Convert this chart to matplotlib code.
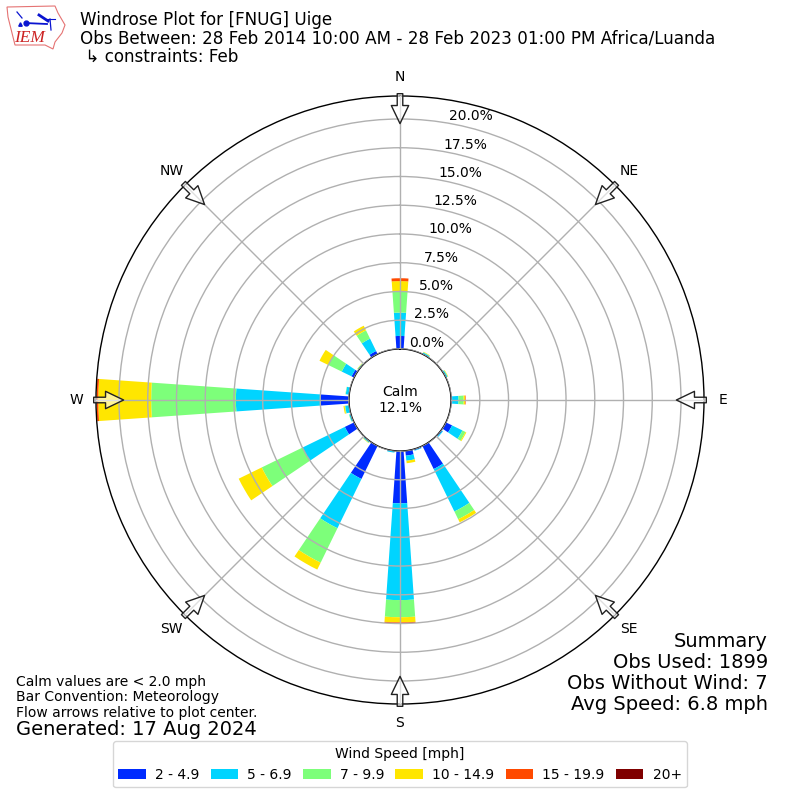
import numpy as np
import matplotlib
matplotlib.use("Agg")
import matplotlib.pyplot as plt
from matplotlib.patches import Polygon

directions = [0, 30, 60, 90, 120, 130, 150, 160, 170, 180, 190, 210, 220, 240, 250, 260, 270, 280, 300, 310, 330]
bin_labels = ["2 - 4.9", "5 - 6.9", "7 - 9.9", "10 - 14.9", "15 - 19.9", "20+"]
bin_colors = ["#002bff", "#00d4ff", "#7dff7a", "#ffe600", "#ff4a00", "#7f0000"]
speed_2_5 = [1.13, 0.06, 0.06, 0.10, 0.60, 0.10, 2.24, 0.10, 0.43, 4.55, 0.06, 3.20, 0.06, 0.90, 0.05, 0.05, 2.46, 0.05, 0.25, 0.05, 0.30]
speed_5_7 = [2.03, 0.10, 0.10, 0.55, 1.00, 0.08, 4.11, 0.05, 0.44, 8.41, 0.10, 4.77, 0.08, 4.10, 0.10, 0.30, 7.37, 0.25, 0.95, 0.05, 1.20]
speed_7_10 = [1.81, 0.03, 0.03, 0.45, 0.30, 0.00, 0.75, 0.00, 0.00, 1.49, 0.00, 3.33, 0.03, 3.94, 0.03, 0.05, 7.37, 0.03, 1.30, 0.03, 0.80]
speed_10_15 = [0.93, 0.04, 0.04, 0.12, 0.08, 0.00, 0.30, 0.00, 0.22, 0.45, 0.00, 0.67, 0.03, 2.23, 0.00, 0.10, 4.60, 0.00, 0.85, 0.03, 0.45]
speed_15_20 = [0.25, 0.00, 0.00, 0.05, 0.00, 0.00, 0.00, 0.00, 0.00, 0.10, 0.00, 0.00, 0.00, 0.00, 0.00, 0.00, 0.15, 0.00, 0.00, 0.00, 0.00]
speed_20 = [0.00] * 21
series = [speed_2_5, speed_5_7, speed_7_10, speed_10_15, speed_15_20, speed_20]

r_ticks = [0, 2.5, 5, 7.5, 10, 12.5, 15, 17.5, 20]
r_max = 22.0
r_origin = -4.44
compass = ["N", "NE", "E", "SE", "S", "SW", "W", "NW"]
compass_deg = [0, 45, 90, 135, 180, 225, 270, 315]

fig = plt.figure(figsize=(8, 8), dpi=100)
ax = fig.add_axes([0.12, 0.12, 0.76, 0.76], projection="polar")
ax.set_theta_zero_location("N")
ax.set_theta_direction(-1)
ax.set_axisbelow(False)

theta = np.radians(directions)
bottom = np.zeros(len(directions))
for vals, lab, col in zip(series, bin_labels, bin_colors):
    vals = np.asarray(vals)
    ax.bar(theta, vals, width=np.radians(8), bottom=bottom, color=col, label=lab, linewidth=0, zorder=2)
    bottom = bottom + vals

ax.set_rlim(0, r_max)
ax.set_rorigin(r_origin)
ax.set_rticks(r_ticks)
ax.set_yticklabels([f"{t:.1f}%" for t in r_ticks], fontsize=10, ha="left", va="bottom")
ax.set_rlabel_position(10)
ax.set_xticks(np.radians(compass_deg))
ax.set_xticklabels(compass, fontsize=10)
ax.tick_params(axis="x", pad=3.5)
ax.grid(True, color="#b0b0b0", linewidth=1, zorder=3)
ax.spines["polar"].set_linewidth(1)
ax.spines["inner"].set_visible(True)
ax.spines["inner"].set_linewidth(1)
ax.spines["inner"].set_edgecolor("black")

# arrows from the outer edge pointing to the centre
for d in compass_deg:
    t = np.radians(d)
    ax.annotate("", xy=(t, r_max - 2.4), xytext=(t, r_max + 0.2), xycoords="data", textcoords="data",
                arrowprops=dict(facecolor=(1, 1, 1, 0.6), edgecolor="#222222", width=4, headwidth=12.5, headlength=13,
                                shrink=0, linewidth=1),
                annotation_clip=False, zorder=5)

ax.text(0.5, 0.5, "Calm\n12.1%", transform=ax.transAxes, ha="center", va="center", fontsize=10, zorder=6)

fig.text(0.1, 0.9175, "Windrose Plot for [FNUG] Uige\nObs Between: 28 Feb 2014 10:00 AM - 28 Feb 2023 01:00 PM Africa/Luanda\n \u21b3 constraints: Feb",
         fontsize=12.02, va="bottom", ha="left", linespacing=1.05)
fig.text(0.96, 0.107, "Summary\nObs Used: 1899\nObs Without Wind: 7\nAvg Speed: 6.8 mph", fontsize=14, ha="right", va="bottom", linespacing=1.15)
fig.text(0.02, 0.1, "Calm values are < 2.0 mph\nBar Convention: Meteorology\nFlow arrows relative to plot center.", fontsize=10, ha="left", va="bottom", linespacing=1.15)
fig.text(0.02, 0.076, "Generated: 17 Aug 2024", fontsize=14, ha="left", va="bottom")

handles, labels = ax.get_legend_handles_labels()
fig.legend(handles, labels, loc="lower center", bbox_to_anchor=(0.5, 0.007), ncol=6, fontsize=10,
           title="Wind Speed [mph]", title_fontsize=10, columnspacing=0.8, handletextpad=0.65)

# IEM logo, simplified (axes spans the logo's pixel box in the figure)
logo = fig.add_axes([5 / 800, 745 / 800, 65 / 800, 50 / 800])
logo.set_xlim(5, 70)
logo.set_ylim(55, 5)
logo.axis("off")
logo.add_patch(Polygon([[7, 7], [55, 6], [58, 13], [65, 25], [62, 33], [55, 42], [53, 49], [45, 45], [15, 45], [12, 33], [8, 17]],
                       fill=False, edgecolor="#e57373", linewidth=0.8))
logo.plot([25, 47], [23, 24], color="#0a14d0", linewidth=1.3)
logo.plot([26], [23], "o", color="#0a14d0", markersize=3.5)
logo.plot([20], [24], "^", color="#0a14d0", markersize=2.5)
logo.plot([17, 22], [12, 18], color="#0a14d0", linewidth=0.9)
logo.plot([39, 48], [15, 21], color="#0a14d0", linewidth=2)
logo.plot([45, 55], [19, 19], color="#0a14d0", linewidth=0.8)
logo.plot([50, 51], [19, 30], color="#0a14d0", linewidth=0.9)
logo.text(30, 38, "IEM", family="Liberation Serif", style="italic", color="#cc2222", fontsize=12.5, ha="center", va="center")

fig.savefig("out.png", dpi=100)
